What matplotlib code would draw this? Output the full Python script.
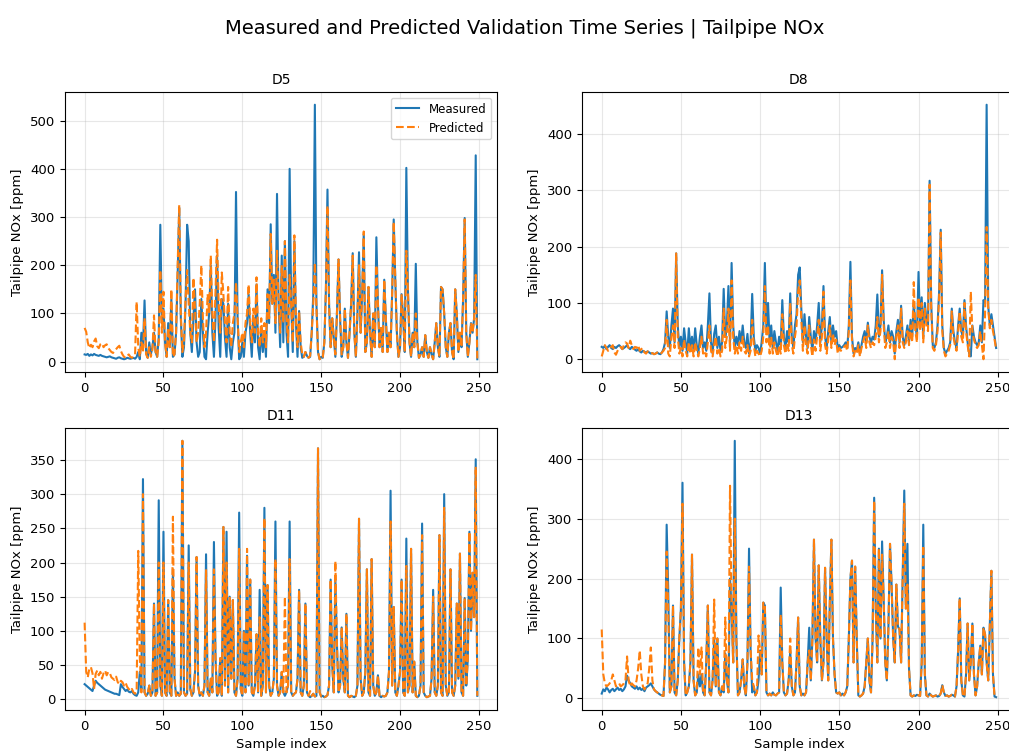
import matplotlib
matplotlib.use("Agg")
import matplotlib.pyplot as plt
import numpy as np

title = "Measured and Predicted Validation Time Series | Tailpipe NOx"
drive_names = ["D5", "D8", "D11", "D13"]

# D5
measured_d5 = [
    15, 14, 16, 12, 15, 13, 16, 14, 13, 12,
    14, 12, 11, 10, 9, 10, 11, 9, 8, 7,
    6, 8, 9, 7, 6, 5, 6, 8, 7, 6,
    7, 8, 6, 10, 20, 5, 60, 30, 127, 20,
    8, 40, 15, 30, 60, 20, 10, 50, 284, 80,
    110, 40, 10, 80, 30, 130, 10, 15, 60, 180,
    320, 90, 10, 30, 120, 284, 250, 60, 20, 90,
    150, 40, 10, 20, 130, 60, 10, 5, 60, 100,
    200, 60, 10, 90, 220, 70, 10, 130, 120, 50,
    10, 120, 30, 5, 40, 60, 352, 90, 5, 10,
    40, 10, 60, 80, 140, 60, 10, 90, 40, 160,
    30, 5, 70, 20, 60, 10, 150, 80, 285, 120,
    180, 60, 348, 120, 30, 220, 40, 250, 60, 10,
    400, 120, 20, 250, 80, 10, 105, 30, 8, 10,
    20, 12, 8, 10, 60, 140, 533, 120, 20, 5,
    10, 8, 40, 150, 357, 120, 30, 90, 50, 10,
    100, 212, 90, 10, 30, 110, 40, 8, 60, 120,
    225, 60, 10, 100, 227, 60, 140, 265, 20, 40,
    155, 60, 10, 100, 30, 258, 120, 30, 70, 20,
    170, 90, 20, 60, 30, 140, 295, 170, 60, 10,
    30, 140, 90, 20, 402, 150, 40, 10, 60, 30,
    203, 40, 8, 15, 30, 10, 55, 20, 8, 30,
    15, 5, 40, 80, 30, 10, 155, 150, 100, 30,
    10, 60, 80, 20, 5, 150, 100, 20, 60, 30,
    130, 298, 60, 10, 40, 80, 60, 90, 428, 5,
]
predicted_d5 = [
    70, 62, 40, 28, 35, 30, 42, 48, 32, 28,
    36, 38, 30, 34, 36, 28, 24, 20, 18, 22,
    26, 30, 33, 22, 15, 10, 8, 12, 15, 10,
    8, 12, 15, 124, 30, 10, 40, 20, 90, 15,
    8, 30, 10, 25, 96, 20, 10, 40, 190, 60,
    145, 40, 10, 70, 30, 150, 10, 15, 60, 200,
    325, 100, 20, 40, 130, 190, 120, 60, 40, 174,
    110, 40, 60, 120, 200, 90, 30, 60, 140, 100,
    220, 100, 40, 150, 253, 120, 60, 185, 140, 80,
    40, 155, 60, 30, 80, 100, 165, 90, 20, 40,
    60, 30, 80, 100, 160, 80, 40, 110, 60, 175,
    60, 30, 90, 40, 80, 30, 140, 90, 265, 120,
    170, 80, 230, 130, 60, 200, 80, 250, 90, 40,
    180, 120, 40, 262, 90, 30, 105, 40, 15, 10,
    20, 12, 8, 12, 60, 120, 205, 110, 20, 5,
    10, 8, 40, 150, 323, 120, 30, 90, 50, 15,
    100, 212, 90, 15, 30, 110, 40, 8, 60, 120,
    220, 60, 10, 100, 200, 60, 140, 270, 20, 40,
    155, 60, 10, 100, 30, 200, 120, 30, 70, 20,
    170, 90, 20, 60, 30, 140, 290, 170, 60, 10,
    30, 140, 90, 20, 230, 150, 40, 10, 60, 30,
    100, 40, 8, 15, 30, 10, 55, 20, 8, 30,
    15, 5, 40, 80, 30, 10, 155, 150, 100, 30,
    10, 60, 80, 20, 5, 150, 100, 20, 60, 30,
    130, 295, 60, 10, 40, 80, 60, 90, 180, 5,
]

# D8
measured_d8 = [
    22, 20, 24, 18, 22, 25, 20, 18, 22, 20,
    23, 25, 22, 18, 20, 22, 25, 20, 18, 22,
    20, 17, 15, 18, 14, 12, 15, 13, 12, 14,
    12, 10, 11, 9, 10, 12, 10, 9, 12, 18,
    30, 85, 40, 20, 60, 90, 30, 188, 60, 20,
    40, 15, 55, 30, 10, 55, 20, 40, 15, 55,
    25, 10, 40, 60, 20, 30, 15, 60, 117, 30,
    10, 45, 60, 20, 40, 15, 30, 125, 40, 60,
    130, 30, 171, 60, 20, 40, 25, 50, 30, 60,
    30, 20, 45, 10, 30, 116, 40, 15, 25, 20,
    10, 30, 60, 171, 50, 100, 30, 60, 20, 50,
    30, 15, 40, 25, 105, 40, 20, 50, 30, 117,
    40, 20, 60, 80, 150, 163, 90, 30, 80, 40,
    20, 75, 40, 15, 50, 30, 60, 100, 30, 60,
    130, 40, 20, 50, 75, 30, 60, 40, 50, 20,
    25, 20, 22, 25, 30, 20, 60, 173, 40, 10,
    20, 15, 30, 10, 25, 40, 50, 30, 65, 40,
    30, 40, 35, 60, 115, 40, 60, 158, 70, 30,
    40, 60, 30, 50, 40, 10, 50, 70, 30, 95,
    40, 25, 40, 60, 30, 70, 40, 100, 60, 40,
    155, 60, 110, 40, 100, 70, 60, 317, 100, 25,
    20, 30, 60, 120, 230, 60, 20, 10, 15, 20,
    30, 90, 50, 30, 20, 60, 90, 50, 40, 105,
    60, 30, 10, 5, 60, 40, 30, 25, 30, 60,
    30, 105, 100, 452, 95, 60, 80, 60, 40, 20,
]
predicted_d8 = [
    5, 15, 25, 20, 15, 18, 22, 25, 12, 8,
    15, 20, 22, 18, 25, 30, 28, 20, 33, 25,
    18, 22, 20, 25, 15, 18, 20, 12, 10, 14,
    12, 10, 11, 9, 10, 12, 10, 9, 12, 15,
    20, 70, 10, 5, 40, 60, 20, 188, 40, 10,
    20, 5, 35, 15, 5, 30, 10, 25, 5, 30,
    15, 5, 20, 40, 10, 15, 5, 30, 60, 15,
    5, 25, 40, 10, 20, 5, 15, 90, 20, 40,
    90, 15, 140, 40, 10, 25, 10, 30, 15, 40,
    15, 10, 25, 5, 15, 70, 25, 5, 15, 10,
    5, 15, 40, 130, 30, 60, 10, 40, 10, 30,
    15, 5, 25, 10, 80, 25, 10, 30, 15, 100,
    25, 10, 40, 60, 120, 140, 70, 15, 60, 25,
    10, 60, 25, 5, 35, 15, 40, 70, 15, 40,
    120, 25, 10, 35, 60, 20, 45, 25, 35, 10,
    20, 15, 20, 22, 25, 15, 50, 140, 30, 5,
    15, 10, 25, 5, 20, 30, 40, 20, 60, 30,
    20, 30, 25, 40, 75, 30, 50, 150, 60, 20,
    30, 50, 20, 40, 30, 0, 40, 60, 20, 90,
    30, 20, 30, 50, 25, 60, 30, 137, 50, 30,
    110, 50, 100, 30, 90, 60, 50, 310, 90, 20,
    15, 25, 50, 110, 225, 50, 15, 5, 10, 15,
    25, 85, 40, 25, 15, 50, 85, 40, 30, 100,
    50, 25, 5, 120, 50, 35, 25, 20, 25, 50,
    25, 0, 80, 235, 90, 55, 70, 50, 35, 18,
]

# D11
measured_d11 = [
    22, 20, 18, 16, 14, 12, 20, 27, 24, 22,
    20, 18, 16, 14, 13, 12, 11, 10, 9, 8,
    8, 7, 6, 22, 18, 15, 12, 14, 11, 10,
    12, 8, 6, 5, 10, 40, 15, 322, 10, 5,
    8, 20, 5, 10, 140, 5, 10, 291, 20, 5,
    245, 10, 5, 145, 10, 5, 190, 30, 5, 10,
    5, 8, 378, 10, 5, 8, 225, 15, 5, 10,
    40, 208, 20, 5, 10, 5, 20, 212, 10, 5,
    30, 10, 230, 60, 5, 10, 60, 5, 252, 20,
    245, 10, 150, 30, 145, 10, 5, 30, 273, 15,
    5, 100, 10, 210, 20, 175, 10, 5, 20, 95,
    10, 160, 5, 20, 280, 10, 167, 20, 5, 10,
    30, 260, 20, 5, 10, 40, 10, 5, 10, 20,
    260, 10, 5, 8, 10, 30, 160, 10, 5, 20,
    140, 10, 5, 3, 5, 8, 4, 5, 367, 10,
    4, 5, 3, 4, 6, 20, 175, 50, 10, 175,
    80, 10, 20, 105, 30, 10, 125, 5, 3, 5,
    4, 3, 5, 20, 264, 30, 5, 10, 40, 190,
    10, 5, 205, 20, 5, 10, 35, 5, 3, 5,
    4, 5, 10, 40, 305, 20, 135, 10, 5, 20,
    40, 175, 10, 5, 235, 10, 20, 220, 10, 55,
    5, 3, 5, 20, 257, 10, 5, 3, 4, 5,
    30, 160, 10, 5, 20, 240, 10, 5, 300, 20,
    5, 10, 190, 10, 5, 20, 140, 30, 213, 10,
    5, 148, 20, 60, 245, 100, 185, 120, 351, 5,
]
predicted_d11 = [
    112, 40, 32, 45, 47, 38, 15, 37, 42, 35,
    40, 30, 38, 42, 35, 40, 38, 32, 30, 28,
    33, 25, 22, 27, 25, 20, 24, 18, 15, 12,
    15, 10, 8, 12, 217, 60, 10, 300, 10, 5,
    8, 20, 5, 10, 140, 5, 10, 200, 20, 5,
    200, 10, 5, 145, 10, 5, 267, 30, 5, 10,
    5, 8, 378, 10, 5, 8, 200, 15, 5, 10,
    40, 208, 20, 5, 10, 5, 20, 190, 10, 5,
    30, 10, 190, 60, 5, 10, 60, 5, 252, 20,
    200, 10, 150, 30, 145, 10, 5, 30, 220, 15,
    5, 100, 10, 220, 20, 175, 10, 5, 20, 95,
    10, 120, 5, 20, 265, 10, 167, 20, 5, 10,
    30, 205, 20, 5, 10, 40, 10, 150, 10, 20,
    205, 10, 5, 8, 10, 30, 160, 10, 5, 20,
    140, 10, 5, 12, 5, 8, 4, 5, 367, 10,
    4, 5, 3, 4, 6, 20, 175, 50, 10, 202,
    80, 10, 20, 105, 30, 10, 125, 5, 3, 5,
    4, 3, 5, 20, 264, 30, 5, 10, 40, 190,
    10, 5, 205, 20, 5, 10, 35, 5, 3, 5,
    4, 5, 10, 40, 260, 20, 135, 10, 5, 20,
    40, 175, 10, 5, 195, 10, 20, 220, 10, 55,
    5, 3, 5, 20, 240, 10, 5, 3, 4, 5,
    30, 150, 10, 5, 20, 240, 10, 5, 280, 20,
    5, 10, 190, 10, 5, 20, 140, 30, 213, 10,
    5, 148, 20, 60, 245, 100, 185, 120, 340, 5,
]

# D13
measured_d13 = [
    8, 15, 12, 18, 15, 10, 14, 16, 12, 15,
    18, 14, 16, 12, 15, 20, 38, 30, 25, 20,
    18, 16, 20, 15, 18, 14, 16, 12, 18, 20,
    22, 25, 20, 15, 12, 10, 8, 6, 5, 4,
    60, 290, 180, 10, 20, 155, 10, 5, 30, 100,
    150, 360, 60, 5, 10, 20, 60, 240, 30, 5,
    10, 40, 20, 40, 10, 5, 60, 155, 10, 5,
    30, 100, 20, 100, 10, 5, 20, 10, 75, 30,
    10, 200, 150, 60, 430, 100, 5, 10, 30, 65,
    20, 5, 60, 250, 80, 10, 20, 5, 10, 30,
    80, 40, 160, 155, 10, 5, 8, 5, 10, 6,
    5, 8, 10, 185, 60, 10, 5, 8, 30, 80,
    20, 5, 10, 60, 135, 20, 5, 8, 5, 10,
    60, 118, 30, 100, 265, 100, 60, 222, 100, 30,
    60, 218, 100, 30, 160, 265, 100, 40, 10, 8,
    10, 5, 8, 5, 10, 20, 100, 200, 230, 60,
    220, 100, 5, 3, 5, 8, 20, 60, 100, 30,
    10, 100, 335, 150, 60, 250, 100, 262, 165, 60,
    30, 120, 258, 190, 100, 60, 190, 120, 115, 60,
    200, 347, 150, 258, 50, 5, 3, 5, 4, 6,
    5, 4, 60, 290, 40, 5, 3, 8, 5, 3,
    4, 5, 3, 4, 8, 22, 10, 4, 5, 3,
    4, 6, 5, 3, 20, 80, 167, 30, 5, 3,
    40, 125, 30, 60, 125, 40, 5, 20, 60, 88,
    40, 118, 107, 60, 30, 120, 213, 40, 3, 2,
]
predicted_d13 = [
    115, 40, 25, 20, 22, 25, 30, 40, 30, 20,
    22, 25, 20, 22, 25, 30, 70, 30, 20, 25,
    22, 20, 30, 50, 80, 40, 20, 15, 20, 25,
    50, 85, 30, 15, 12, 10, 8, 6, 5, 4,
    60, 245, 150, 10, 20, 155, 10, 5, 30, 100,
    150, 325, 60, 5, 10, 20, 60, 240, 30, 5,
    10, 85, 40, 85, 10, 5, 60, 155, 10, 5,
    30, 165, 20, 100, 10, 5, 20, 10, 135, 30,
    10, 355, 150, 60, 300, 100, 5, 10, 30, 65,
    20, 5, 60, 220, 80, 30, 20, 5, 10, 105,
    80, 40, 160, 155, 10, 5, 8, 5, 10, 6,
    5, 8, 10, 140, 60, 10, 5, 8, 30, 100,
    20, 5, 10, 60, 135, 20, 5, 8, 5, 10,
    60, 80, 30, 100, 265, 100, 60, 222, 100, 30,
    60, 218, 100, 30, 160, 265, 100, 40, 10, 8,
    10, 5, 8, 5, 10, 20, 100, 200, 230, 60,
    220, 100, 5, 3, 5, 8, 20, 60, 100, 30,
    10, 100, 330, 150, 60, 250, 100, 240, 165, 60,
    30, 120, 258, 190, 100, 60, 190, 120, 115, 60,
    200, 325, 150, 190, 50, 5, 3, 5, 4, 6,
    5, 4, 60, 255, 40, 5, 3, 8, 5, 3,
    4, 5, 3, 4, 8, 22, 10, 4, 5, 3,
    4, 6, 5, 3, 20, 80, 167, 30, 5, 3,
    40, 125, 30, 60, 125, 40, 5, 20, 60, 88,
    40, 118, 107, 60, 30, 120, 213, 40, 3, 2,
]

measured = [measured_d5, measured_d8, measured_d11, measured_d13]
predicted = [predicted_d5, predicted_d8, predicted_d11, predicted_d13]

fig = plt.figure(figsize=(10.09, 7.51), dpi=100)
fig.suptitle(title, fontsize=14, x=0.52, y=0.975)

# axes boxes (left, bottom, width, height) in figure fractions;
# the right column runs a little past the figure edge, as in the original
boxes = [
    (0.0644, 0.5047, 0.4281, 0.3728),
    (0.5768, 0.5047, 0.4300, 0.3728),
    (0.0644, 0.0546, 0.4281, 0.3755),
    (0.5768, 0.0546, 0.4300, 0.3755),
]

for i, name in enumerate(drive_names):
    ax = fig.add_axes(boxes[i])
    idx = np.arange(len(measured[i]))
    ax.plot(idx, measured[i], color="#1f77b4", lw=1.5, label="Measured")
    ax.plot(idx, predicted[i], color="#ff7f0e", lw=1.5, ls="--", label="Predicted")
    ax.set_title(name, fontsize=10)
    ax.set_ylabel("Tailpipe NOx [ppm]", fontsize=9.5)
    ax.grid(True, alpha=0.3)
    ax.tick_params(labelsize=9.5)
    ax.set_xticks([0, 50, 100, 150, 200, 250])
    if i >= 2:
        ax.set_xlabel("Sample index", fontsize=9.5)
    if i == 0:
        ax.legend(loc="upper right", fontsize=8.5)

fig.savefig("out.png", dpi=100)
